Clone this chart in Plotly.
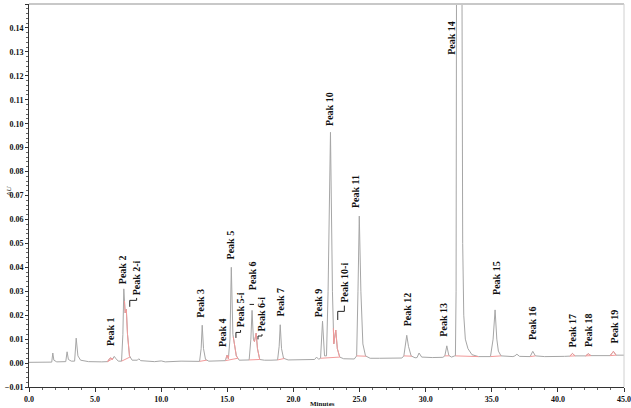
import numpy as np
import plotly.graph_objects as go

# detector trace (minutes, AU)
trace_t = [
    0.0, 1.6, 1.72, 1.8, 1.88, 2.1,
    2.78, 2.88, 2.98, 3.2,
    3.45, 3.57, 3.7, 3.9, 4.5, 5.5,
    5.95, 6.05, 6.2, 6.3, 6.45, 6.55, 6.75,
    7.0, 7.1, 7.17, 7.27, 7.36, 7.45, 7.6, 7.8, 8.2, 8.3, 8.45, 9.5, 10.0, 10.3, 11.5, 12.2,
    12.9, 13.02, 13.1, 13.2, 13.35, 13.6, 14.5,
    14.85, 14.98, 15.08, 15.2, 15.3, 15.42, 15.55, 15.68, 15.9, 16.4,
    16.65, 16.78, 16.87, 16.97, 17.05, 17.18, 17.28, 17.45, 17.8, 18.3,
    18.8, 18.92, 19.0, 19.1, 19.25, 19.6, 21.0,
    21.6, 21.75, 21.9,
    22.05, 22.2, 22.35, 22.5, 22.62, 22.8, 22.95, 23.05, 23.2, 23.32, 23.5, 23.8, 24.6,
    24.78, 24.88, 24.98, 25.1, 25.25, 25.45, 25.8, 26.5, 28.2,
    28.35, 28.5, 28.57, 28.7, 28.9, 29.2,
    29.35, 29.5, 29.7, 30.5, 31.3,
    31.45, 31.6, 31.75, 31.95, 32.2,
    32.25, 32.3, 32.33, 32.55, 32.75, 32.8, 32.88, 33.0, 33.2, 33.5, 34.0,
    34.9, 35.1, 35.25, 35.38, 35.5, 35.7, 36.6,
    36.75, 36.9, 37.1,
    37.9, 38.1, 38.3, 39.0, 40.5,
    40.9, 41.1, 41.3,
    42.1, 42.3, 42.5,
    43.95, 44.2, 44.4, 45.0,
]
trace_au = [
    0.0003, 0.0003, 0.0004, 0.0042, 0.0012, 0.0005,
    0.0006, 0.0047, 0.0015, 0.0008,
    0.0008, 0.0104, 0.003, 0.0012, 0.0006, 0.0005,
    0.0006, 0.0016, 0.0022, 0.0015, 0.0028, 0.002, 0.0008,
    0.0008, 0.012, 0.031, 0.021, 0.0225, 0.012, 0.003, 0.0012, 0.0012, 0.0018, 0.001, 0.0006, 0.0009, 0.0005, 0.0008, 0.0006,
    0.0007, 0.006, 0.0158, 0.006, 0.0015, 0.0008, 0.0009,
    0.001, 0.0033, 0.0018, 0.01, 0.040, 0.012, 0.0075, 0.003, 0.0012, 0.0011,
    0.0013, 0.01, 0.022, 0.01, 0.009, 0.0125, 0.006, 0.0015, 0.0012, 0.0012,
    0.0013, 0.007, 0.016, 0.006, 0.002, 0.0013, 0.0014,
    0.0015, 0.0025, 0.0016,
    0.002, 0.0175, 0.003, 0.003, 0.03, 0.0964, 0.03, 0.008, 0.0138, 0.006, 0.0025, 0.0018, 0.0017,
    0.003, 0.03, 0.0614, 0.03, 0.008, 0.003, 0.002, 0.002, 0.0021,
    0.003, 0.0095, 0.0116, 0.007, 0.003, 0.0022,
    0.0023, 0.0042, 0.0025, 0.0023, 0.0024,
    0.003, 0.0072, 0.0032, 0.0025, 0.003,
    0.003, 0.03, 0.15, 0.30, 0.15, 0.05, 0.02, 0.01, 0.006, 0.0035, 0.0027,
    0.0027, 0.01, 0.0222, 0.01, 0.005, 0.003, 0.0027,
    0.003, 0.0037, 0.0028,
    0.0027, 0.0049, 0.003, 0.0027, 0.0028,
    0.0029, 0.004, 0.003,
    0.003, 0.0039, 0.0031,
    0.0031, 0.0049, 0.0033, 0.0033,
]

# integration windows (minutes): baseline drawn in pink, some peaks traced in pink
base_windows = [
    (5.95, 6.35), (7.0, 7.65), (12.9, 13.45), (14.85, 15.8), (16.65, 17.45),
    (18.8, 19.3), (22.05, 23.5), (24.78, 25.5), (28.35, 28.95), (31.45, 31.8),
    (32.25, 34.0), (34.9, 35.7), (37.9, 38.3), (40.9, 41.3), (42.1, 42.5), (43.95, 44.4),
]
pink_windows = [
    (5.95, 6.35), (7.22, 7.62), (14.9, 15.1), (15.45, 15.8), (17.0, 17.45),
    (23.02, 23.5), (40.9, 41.3), (42.1, 42.5), (43.95, 44.4),
]

# peak labels (text, minutes, AU at bottom of the text)
label_text = [
    "Peak 1", "Peak 2", "Peak 2-i", "Peak 3", "Peak 4", "Peak 5", "Peak 5-i",
    "Peak 6", "Peak 6-i", "Peak 7", "Peak 9", "Peak 10", "Peak 10-i", "Peak 11",
    "Peak 12", "Peak 13", "Peak 14", "Peak 15", "Peak 16", "Peak 17", "Peak 18", "Peak 19",
]
label_t = [
    6.15, 7.13, 8.14, 13.0, 14.62, 15.25, 16.0,
    16.9, 17.62, 19.0, 21.9, 22.78, 23.85, 24.75,
    28.6, 31.35, 32.0, 35.3, 38.05, 41.1, 42.27, 44.27,
]
label_au = [
    0.0062, 0.032, 0.0275, 0.0183, 0.0058, 0.0425, 0.0142,
    0.0296, 0.0125, 0.0185, 0.0183, 0.0983, 0.0246, 0.0638,
    0.0146, 0.010, 0.128, 0.0275, 0.0088, 0.0058, 0.0058, 0.0075,
]

# leader brackets from offset labels to their peaks
bracket_t = [
    [8.14, 8.14, 7.62, 7.62],
    [16.0, 16.0, 15.65, 15.65],
    [17.62, 17.62, 17.32, 17.32],
    [23.85, 23.85, 23.35, 23.35],
    [16.68, 17.02],
]
bracket_au = [
    [0.0272, 0.0262, 0.0262, 0.0235],
    [0.0138, 0.0128, 0.0128, 0.0105],
    [0.0121, 0.0113, 0.0113, 0.0099],
    [0.0240, 0.0216, 0.0216, 0.0180],
    [0.0245, 0.0245],
]

t = np.array(trace_t)
au = np.array(trace_au)


def window_curve(t0, t1):
    inside = (t > t0) & (t < t1)
    xs = [t0] + list(t[inside]) + [t1]
    ys = [np.interp(t0, t, au)] + list(au[inside]) + [np.interp(t1, t, au)]
    return xs, ys


pink_x, pink_y = [], []
for t0, t1 in base_windows:
    pink_x += [t0, t1, None]
    pink_y += [np.interp(t0, t, au), np.interp(t1, t, au), None]
for t0, t1 in pink_windows:
    xs, ys = window_curve(t0, t1)
    pink_x += xs + [None]
    pink_y += ys + [None]

br_x, br_y = [], []
for bx, by in zip(bracket_t, bracket_au):
    br_x += bx + [None]
    br_y += by + [None]

fig = go.Figure()
fig.add_trace(go.Scatter(x=t, y=au, mode="lines", line={"color": "#a6a6a6", "width": 1}))
fig.add_trace(go.Scatter(x=pink_x, y=pink_y, mode="lines", line={"color": "#f29a9a", "width": 1}))
fig.add_trace(go.Scatter(x=br_x, y=br_y, mode="lines", line={"color": "#222222", "width": 1}))

for txt, lx, ly in zip(label_text, label_t, label_au):
    fig.add_annotation(
        x=lx, y=ly, text=f"<b>{txt}</b>", textangle=-90, showarrow=False,
        xanchor="center", yanchor="bottom",
        font={"family": "Liberation Serif", "size": 10, "color": "#111111"},
    )

fig.add_annotation(x=-0.045, y=0.51, xref="paper", yref="paper", text="<i>AU</i>",
                   textangle=-90, showarrow=False,
                   font={"family": "Liberation Serif", "size": 7, "color": "#111111"})
fig.add_annotation(x=0.494, y=-0.029, xref="paper", yref="paper", text="<b>Minutes</b>",
                   showarrow=False, yanchor="top",
                   font={"family": "Liberation Serif", "size": 7, "color": "#111111"})

# light border along top and right
fig.add_shape(type="line", xref="paper", yref="paper", x0=0, x1=1, y0=1, y1=1,
              line={"color": "#c8c8c8", "width": 2})
fig.add_shape(type="line", xref="paper", yref="paper", x0=1, x1=1, y0=0, y1=1,
              line={"color": "#d0d0d0", "width": 1})

tick_font = {"family": "Liberation Serif", "size": 8, "color": "#111111", "weight": "bold"}
fig.update_layout(
    width=631, height=408,
    margin={"l": 29, "r": 7, "t": 4, "b": 21},
    plot_bgcolor="white", paper_bgcolor="white",
    showlegend=False,
    xaxis={
        "range": [0, 45], "dtick": 5, "tickformat": ".1f", "showgrid": False,
        "zeroline": False, "showline": True, "linecolor": "#333333", "linewidth": 1,
        "ticks": "outside", "ticklen": 4, "tickcolor": "#333333", "tickfont": tick_font,
        "automargin": False,
        "minor": {"dtick": 1, "ticks": "outside", "ticklen": 2, "tickcolor": "#666666"},
    },
    yaxis={
        "range": [-0.01, 0.15], "dtick": 0.01, "tickformat": ".2f", "showgrid": False,
        "zeroline": False, "showline": True, "linecolor": "#333333", "linewidth": 1,
        "ticks": "outside", "ticklen": 3, "tickcolor": "#333333", "tickfont": tick_font,
        "automargin": False,
        "minor": {"dtick": 0.002, "ticks": "outside", "ticklen": 2, "tickcolor": "#666666"},
    },
)

fig.write_html("out.html", config={"displayModeBar": False},
               post_script="document.body.style.margin='0';")
